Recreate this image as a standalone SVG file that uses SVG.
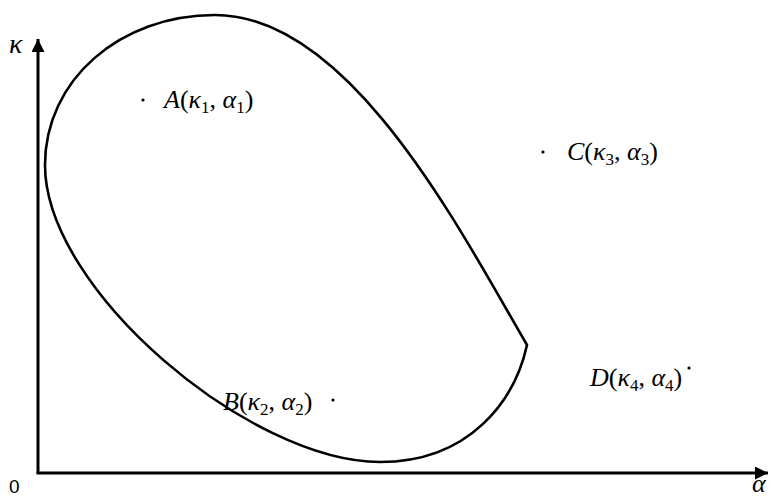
<svg xmlns="http://www.w3.org/2000/svg" width="776" height="497" viewBox="0 0 776 497">
<style>
.ax{stroke:#000;stroke-width:3;fill:none}
.cv{stroke:#000;stroke-width:2.6;fill:none;stroke-linejoin:miter}
.lb{font-family:"Liberation Serif",serif;font-size:26px;fill:#000}
.it{font-style:italic}
.sb{font-size:17px;font-style:normal}
.dot{fill:#000}
</style>
<defs>
<marker id="ah" markerWidth="14" markerHeight="14" refX="13" refY="6.5" orient="auto" markerUnits="userSpaceOnUse"><path d="M0,0 L13,6.5 L0,13 Z" fill="#000"/></marker>
</defs>
<rect width="776" height="497" fill="#fff"/>
<g id="connectors">
<path class="ax" d="M38,473 L38,39" marker-end="url(#ah)"/>
<path class="ax" d="M36.5,473 L768,473" marker-end="url(#ah)"/>
</g>
<g id="axis-labels">
<text x="9" y="493" font-family="Liberation Sans,sans-serif" font-size="19">0</text>
<text x="9" y="53" font-family="Liberation Serif,serif" font-style="italic" font-size="28">κ</text>
<text x="752" y="492" font-family="Liberation Serif,serif" font-style="italic" font-size="26">α</text>
</g>
<g id="region">
<path class="cv" d="M527,345 C460,230 350,15 215,15 C120,15 45,80 45,165 C45,290 250,462 380,462 C470,462 515,400 527,345 Z"/>
</g>
<g id="A">
<circle class="dot" cx="143" cy="100" r="1.6"/>
<text class="lb" x="164" y="108"><tspan class="it">A</tspan>(<tspan class="it">κ</tspan><tspan class="sb" dy="5">1</tspan><tspan dy="-5">, </tspan><tspan class="it">α</tspan><tspan class="sb" dy="5">1</tspan><tspan dy="-5">)</tspan></text>
</g>
<g id="C">
<circle class="dot" cx="543" cy="152" r="1.6"/>
<text class="lb" x="567" y="160"><tspan class="it">C</tspan>(<tspan class="it">κ</tspan><tspan class="sb" dy="5">3</tspan><tspan dy="-5">, </tspan><tspan class="it">α</tspan><tspan class="sb" dy="5">3</tspan><tspan dy="-5">)</tspan></text>
</g>
<g id="B">
<circle class="dot" cx="333" cy="400" r="1.6"/>
<text class="lb" x="223" y="410"><tspan class="it">B</tspan>(<tspan class="it">κ</tspan><tspan class="sb" dy="5">2</tspan><tspan dy="-5">, </tspan><tspan class="it">α</tspan><tspan class="sb" dy="5">2</tspan><tspan dy="-5">)</tspan></text>
</g>
<g id="D">
<circle class="dot" cx="689" cy="368" r="1.6"/>
<text class="lb" x="590" y="386"><tspan class="it">D</tspan>(<tspan class="it">κ</tspan><tspan class="sb" dy="5">4</tspan><tspan dy="-5">, </tspan><tspan class="it">α</tspan><tspan class="sb" dy="5">4</tspan><tspan dy="-5">)</tspan></text>
</g>
</svg>
